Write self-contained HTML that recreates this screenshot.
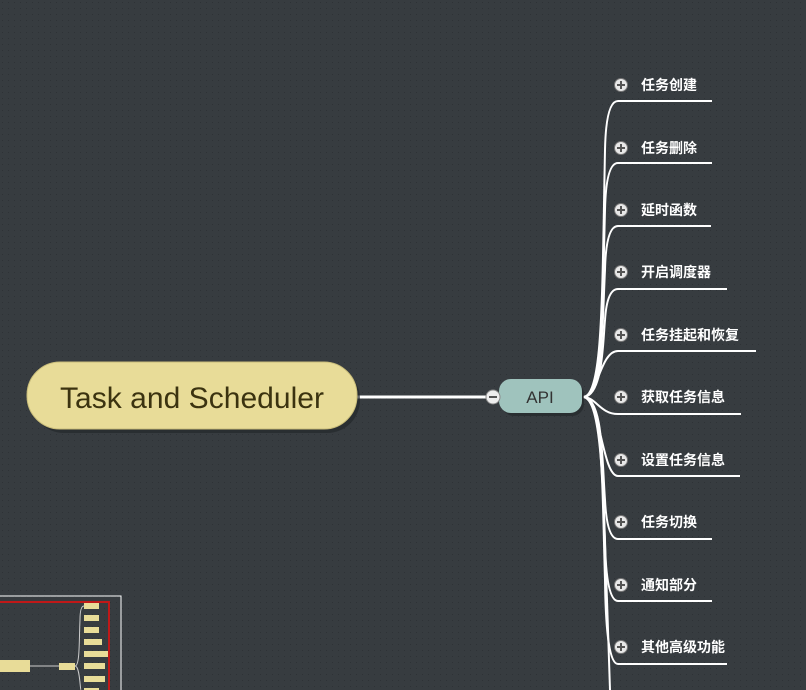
<!DOCTYPE html>
<html><head><meta charset="utf-8"><style>
html,body{margin:0;padding:0;background:#363b3f;}
svg{display:block;}
</style></head><body>
<svg width="806" height="690" xmlns="http://www.w3.org/2000/svg">
<defs>
<pattern id="dots" width="6" height="6" patternUnits="userSpaceOnUse">
<rect width="6" height="6" fill="#373c40"/>
<rect x="2" y="2" width="1" height="1" fill="#2e3236"/>
</pattern>
<g id="plus"><circle r="6.5" fill="#e8e8e8" stroke="#777" stroke-width="1"/><rect x="-4" y="-1" width="8" height="2" fill="#555"/><rect x="-1" y="-4" width="2" height="8" fill="#555"/></g>
</defs>
<rect width="806" height="690" fill="url(#dots)"/>

<g fill="none" stroke="#ffffff" stroke-width="2">
<path d="M583 397 C603 397 602 300 605 150 Q606 101 618 101 L712 101"/>
<path d="M583 397 C603 397 602 320 605 210 Q606 163 618 163 L712 163"/>
<path d="M583 397 C603 397 602 330 605 270 Q606 226 618 226 L711 226"/>
<path d="M583 397 C603 397 603 340 605 320 Q607 289 618 289 L727 289"/>
<path d="M583 397 C598 397 600 351 618 351 L756 351"/>
<path d="M583 397 C596 397 600 414 618 414 L741 414"/>
<path d="M583 397 C600 397 602 476 618 476 L740 476"/>
<path d="M583 397 C603 397 602 460 605 500 Q607 539 618 539 L712 539"/>
<path d="M583 397 C603 397 602 470 605 540 Q606 601 618 601 L712 601"/>
<path d="M583 397 C603 397 602 480 605 580 Q606 664 618 664 L727 664"/>
<path d="M583 397 C603 397 603 500 607 600 L610 690"/>
</g>

<g font-family="Liberation Sans, 'Noto Sans CJK SC', sans-serif" font-size="14" font-weight="bold" fill="#ffffff">
<use href="#plus" x="621" y="85"/><text x="641" y="90">任务创建</text>
<use href="#plus" x="621" y="148"/><text x="641" y="153">任务删除</text>
<use href="#plus" x="621" y="210"/><text x="641" y="215">延时函数</text>
<use href="#plus" x="621" y="272"/><text x="641" y="277">开启调度器</text>
<use href="#plus" x="621" y="335"/><text x="641" y="340">任务挂起和恢复</text>
<use href="#plus" x="621" y="397"/><text x="641" y="402">获取任务信息</text>
<use href="#plus" x="621" y="460"/><text x="641" y="465">设置任务信息</text>
<use href="#plus" x="621" y="522"/><text x="641" y="527">任务切换</text>
<use href="#plus" x="621" y="585"/><text x="641" y="590">通知部分</text>
<use href="#plus" x="621" y="647"/><text x="641" y="652">其他高级功能</text>
</g>

<line x1="355" y1="397" x2="488" y2="397" stroke="#fff" stroke-width="3"/>

<rect x="31" y="366" width="329" height="67" rx="33" fill="#24282b" opacity="0.7"/>
<rect x="27" y="362" width="330" height="67" rx="33" fill="#e8dc98" stroke="#c9bd7a" stroke-width="1"/>
<text x="60" y="408" font-family="Liberation Sans, sans-serif" font-size="30" fill="#3b3310" textLength="264">Task and Scheduler</text>

<rect x="502" y="382" width="82" height="34" rx="12" fill="#24282b" opacity="0.7"/>
<rect x="499" y="379" width="83" height="34" rx="12" fill="#9fc3bd"/>
<text x="540" y="403" text-anchor="middle" font-family="Liberation Sans, sans-serif" font-size="17" fill="#333">API</text>
<circle cx="493" cy="397" r="7" fill="#eee" stroke="#888"/>
<rect x="489" y="396" width="8" height="2" fill="#555"/>

<rect x="-1" y="596" width="122" height="100" fill="none" stroke="#ffffff" stroke-width="1"/>
<rect x="-1" y="602" width="110" height="100" fill="none" stroke="#c01818" stroke-width="2"/>
<rect x="0" y="660" width="30" height="12" fill="#e8dc98"/>
<line x1="30" y1="666" x2="59" y2="666" stroke="#ccc"/>
<rect x="59" y="663" width="16" height="7" fill="#e8dc98"/>
<path d="M75 666 C80 666 79 640 80 620 Q80 606 84 606 M75 666 C80 666 80 690 81 690" fill="none" stroke="#ccc"/>
<g fill="#e8dc98">
<rect x="84" y="603" width="15" height="6"/>
<rect x="84" y="615" width="15" height="6"/>
<rect x="84" y="627" width="15" height="6"/>
<rect x="84" y="639" width="18" height="6"/>
<rect x="84" y="651" width="24" height="6"/>
<rect x="84" y="663" width="21" height="6"/>
<rect x="84" y="676" width="21" height="6"/>
<rect x="84" y="688" width="15" height="4"/>
</g>
</svg>
</body></html>
